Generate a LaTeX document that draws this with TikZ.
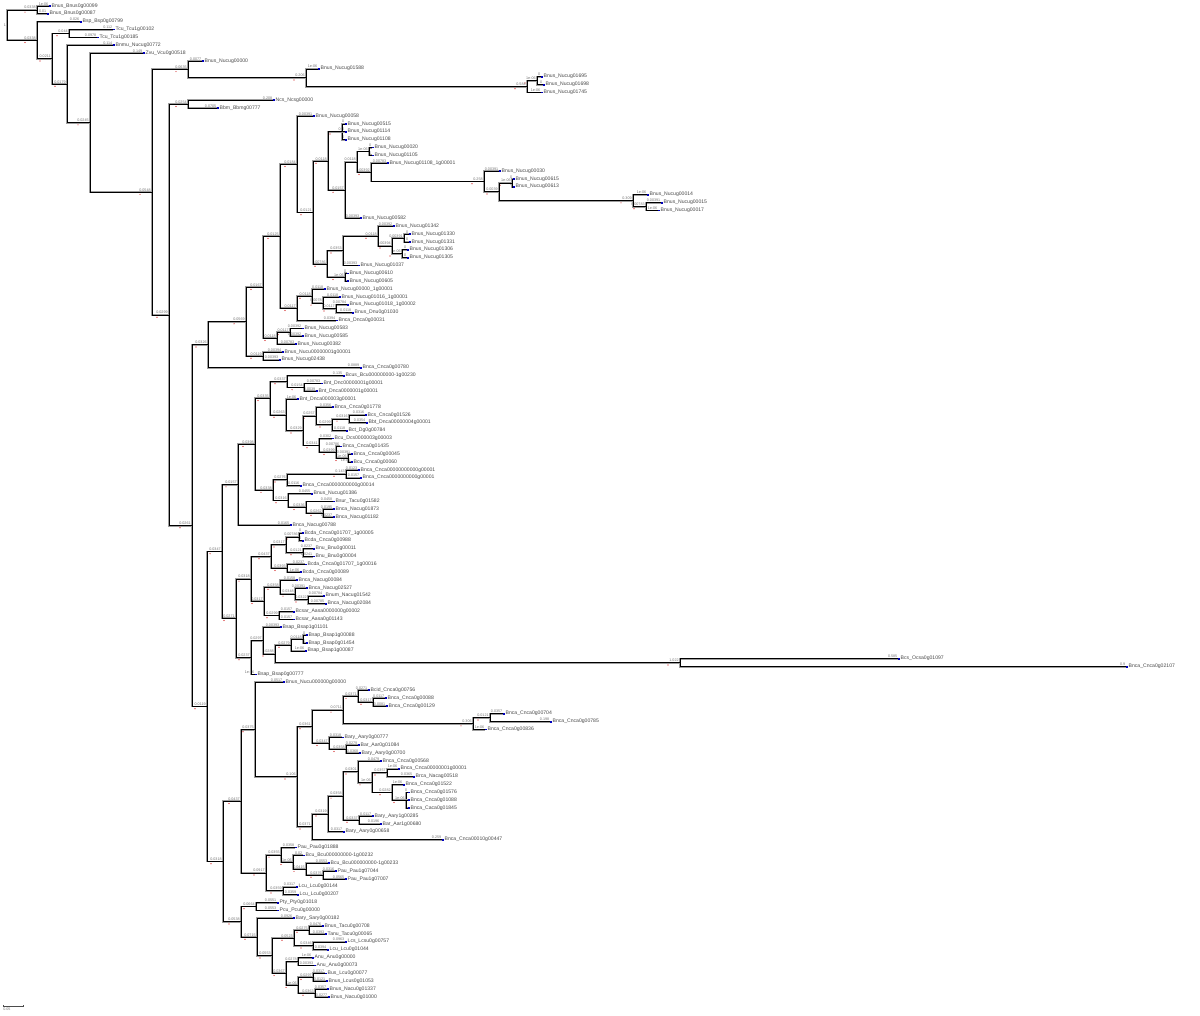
\documentclass[tikz,border=0pt]{standalone}
\usepackage{fontspec}
\setmainfont{Liberation Sans}
\usetikzlibrary{calc}
\tikzset{
 br/.style={draw=black, line width=0.75pt, preaction={draw=black!38, line width=1.9pt}},
 blab/.style={anchor=south east, font=\fontsize{3.7}{3.7}\selectfont, text=black!55, inner sep=0.15pt},
 lname/.style={anchor=west, font=\fontsize{5.1}{5.1}\selectfont, text=black!72, inner sep=0pt},
 leafmk/.style={fill=blue!75!black},
 nodemk/.style={fill=red!80!black},
}
% leaf: id, x end, index, branch label, name
\newcommand\Lv[5]{%
 \coordinate (#1) at (#2pt,{-(6+7.865*(#3-1))*1pt});
 \node[blab] at ([xshift=-0.4pt,yshift=0.6pt]#1) {#4};
 \fill[leafmk] ([xshift=0.2pt,yshift=-0.9pt]#1) rectangle ([xshift=2pt,yshift=0.9pt]#1);
 \node[lname] (t#1) at ([xshift=2.5pt,yshift=0.2pt]#1) {#5};}
% internal node: id, x, first child, last child, branch label
\newcommand\Nd[5]{%
 \path let \p1=($(#3)!0.5!(#4)$) in coordinate (#1) at (#2pt,\y1);
 \draw[br] (#1) |- (#3);
 \draw[br] (#1) |- (#4);
 \node[blab] at ([xshift=-1pt,yshift=0.6pt]#1) {#5};
 \fill[nodemk] ([xshift=-12pt,yshift=-2.2pt]#1) circle (0.6pt);}
\begin{document}
\begin{tikzpicture}
\useasboundingbox (0pt,0pt) rectangle (1200pt,-1016pt);
% ---------------- leaves ----------------
\Lv{l1}{49}{1}{1e-06}{Bnus\_Bnus0g00099}
\Lv{l2}{47}{2}{0.01}{Bnus\_Bnus0g00087}
\Lv{l3}{80}{3}{0.026}{Bsp\_Bsp0g00799}
\Lv{l4}{113}{4}{0.112}{Tcu\_Tcu1g00102}
\Lv{l5}{97}{5}{0.0978}{Tcu\_Tcu1g00185}
\Lv{l6}{113}{6}{0.114}{Bnmu\_Nucug00772}
\Lv{l7}{143}{7}{0.149}{Zvu\_Vcu0g00518}
\Lv{l8}{202}{8}{0.0077}{Bnus\_Nucug00000}
\Lv{l9}{318}{9}{1e-06}{Bnus\_Nucug01588}
\Lv{l10}{541}{10}{0}{Bnus\_Nucug01695}
\Lv{l11}{543}{11}{0}{Bnus\_Nucug01698}
\Lv{l12}{541}{12}{1e-06}{Bnus\_Nucug01745}
\Lv{l13}{273}{13}{0.208}{Ncs\_Ncsg00000}
\Lv{l14}{217}{14}{0.0705}{Bbm\_Bbmg00777}
\Lv{l15}{313}{15}{0.00391}{Bnus\_Nucug00058}
\Lv{l16}{345}{16}{0}{Bnus\_Nucug00515}
\Lv{l17}{345}{17}{0}{Bnus\_Nucug01114}
\Lv{l18}{345}{18}{0}{Bnus\_Nucug01108}
\Lv{l19}{372}{19}{0}{Bnus\_Nucug00020}
\Lv{l20}{372}{20}{0}{Bnus\_Nucug01105}
\Lv{l21}{387}{21}{0.00783}{Bnus\_Nucug01108\_1g00001}
\Lv{l22}{499}{22}{0.00391}{Bnus\_Nucug00030}
\Lv{l23}{513}{23}{0}{Bnus\_Nucug00615}
\Lv{l24}{513}{24}{0}{Bnus\_Nucug00613}
\Lv{l25}{647}{25}{1e-06}{Bnus\_Nucug00014}
\Lv{l26}{661}{26}{0.00391}{Bnus\_Nucug00015}
\Lv{l27}{658}{27}{1e-06}{Bnus\_Nucug00017}
\Lv{l28}{360}{28}{0.00393}{Bnus\_Nucug00582}
\Lv{l29}{393}{29}{0.00392}{Bnus\_Nucug01342}
\Lv{l30}{409}{30}{0}{Bnus\_Nucug01330}
\Lv{l31}{409}{31}{0}{Bnus\_Nucug01331}
\Lv{l32}{407}{32}{0}{Bnus\_Nucug01306}
\Lv{l33}{407}{33}{0}{Bnus\_Nucug01305}
\Lv{l34}{358}{34}{0.00393}{Bnus\_Nucug01037}
\Lv{l35}{347}{35}{0}{Bnus\_Nucug00610}
\Lv{l36}{347}{36}{0}{Bnus\_Nucug00605}
\Lv{l37}{324}{37}{0.0118}{Bnus\_Nucug00000\_1g00001}
\Lv{l38}{339}{38}{0.0118}{Bnus\_Nucug01016\_1g00001}
\Lv{l39}{347}{39}{0.00784}{Bnus\_Nucug01018\_1g00002}
\Lv{l40}{352}{40}{0.0118}{Bnus\_Dnu0g01030}
\Lv{l41}{336}{41}{0.0394}{Bnca\_Dnca0g00031}
\Lv{l42}{302}{42}{0.00392}{Bnus\_Nucug00583}
\Lv{l43}{302}{43}{0.00392}{Bnus\_Nucug00585}
\Lv{l44}{295}{44}{0.00783}{Bnus\_Nucug00382}
\Lv{l45}{282}{45}{0.00394}{Bnus\_Nucu00000001g00001}
\Lv{l46}{279}{46}{0.00393}{Bnus\_Nucug02438}
\Lv{l47}{360}{47}{0.0889}{Bnca\_Cnca0g00780}
\Lv{l48}{343}{48}{0.135}{Bcus\_Bcu000000000-1g00230}
\Lv{l49}{321}{49}{0.00783}{Bnt\_Dnc00000001g00001}
\Lv{l50}{316}{50}{0.0039}{Bnt\_Dnca0000001g00001}
\Lv{l51}{297}{51}{1e-06}{Bnt\_Dnca000003g00001}
\Lv{l52}{332}{52}{0.0356}{Bnca\_Cnca0g01778}
\Lv{l53}{365}{53}{0.0316}{Bcs\_Cnca0g01526}
\Lv{l54}{366}{54}{0.0354}{Bbt\_Dnca00000004g00001}
\Lv{l55}{346}{55}{0.0118}{Bct\_Dg0g00784}
\Lv{l56}{332}{56}{0.0302}{Bcu\_Dcs0000003g00003}
\Lv{l57}{340}{57}{0.00786}{Bnca\_Cnca0g01435}
\Lv{l58}{351}{58}{0.00391}{Bnca\_Cnca0g00045}
\Lv{l59}{351}{59}{1e-06}{Bcu\_Cnca0g00060}
\Lv{l60}{358}{60}{0.0123}{Bnca\_Cnca00000000000g00001}
\Lv{l61}{360}{61}{0.0157}{Bnca\_Cnca0000000000g00001}
\Lv{l62}{300}{62}{0.0116}{Bnca\_Cnca0000000000g00014}
\Lv{l63}{311}{63}{0.0455}{Bnus\_Nucug01386}
\Lv{l64}{333}{64}{0.0458}{Bsur\_Tacu0g01582}
\Lv{l65}{333}{65}{0.0195}{Bnca\_Nacug01873}
\Lv{l66}{333}{66}{0.0237}{Bnca\_Nacug01182}
\Lv{l67}{290}{67}{0.0165}{Bnca\_Nacug00788}
\Lv{l68}{302}{68}{0}{Bcda\_Cnca0g01707\_1g00005}
\Lv{l69}{302}{69}{0}{Bcda\_Cnca0g00988}
\Lv{l70}{313}{70}{0.0237}{Bnu\_Bnu0g00011}
\Lv{l71}{313}{71}{0.0241}{Bnu\_Bnu0g00004}
\Lv{l72}{305}{72}{0.0237}{Bcda\_Cnca0g01707\_1g00016}
\Lv{l73}{300}{73}{1e-06}{Bcda\_Cnca0g00089}
\Lv{l74}{296}{74}{0.0158}{Bnca\_Nacug00084}
\Lv{l75}{306}{75}{0.00391}{Bnca\_Nacug02527}
\Lv{l76}{323}{76}{0.00784}{Bnum\_Nacug01542}
\Lv{l77}{325}{77}{0.00785}{Bnca\_Nacug02084}
\Lv{l78}{293}{78}{0.0157}{Bcsar\_Aasa0000000g00002}
\Lv{l79}{293}{79}{0.0157}{Bcsar\_Aasa0g01143}
\Lv{l80}{280}{80}{0.00393}{Bsap\_Bsap1g01101}
\Lv{l81}{306}{81}{0}{Bsap\_Bsap1g00088}
\Lv{l82}{306}{82}{0}{Bsap\_Bsap0g01454}
\Lv{l83}{305}{83}{1e-06}{Bsap\_Bsap1g00087}
\Lv{l84}{898}{84}{0.585}{Bcs\_Ocsa0g01097}
\Lv{l85}{1126}{85}{0.9}{Bnca\_Cnca0g02107}
\Lv{l86}{255}{86}{1e-06}{Bsap\_Bsap0g00777}
\Lv{l87}{283}{87}{0.0517}{Bnus\_Nucu000000g00000}
\Lv{l88}{368}{88}{0.0271}{Bcid\_Cnca0g00756}
\Lv{l89}{385}{89}{0.0117}{Bnca\_Cnca0g00088}
\Lv{l90}{386}{90}{0.0081}{Bnca\_Cnca0g00129}
\Lv{l91}{503}{91}{0.0357}{Bnca\_Cnca0g00704}
\Lv{l92}{550}{92}{0.198}{Bnca\_Cnca0g00785}
\Lv{l93}{485}{93}{1e-06}{Bnca\_Cnca0g00836}
\Lv{l94}{342}{94}{0.0318}{Bary\_Aary0g00777}
\Lv{l95}{358}{95}{0.0279}{Bar\_Aar0g01084}
\Lv{l96}{359}{96}{0.0368}{Bary\_Aary0g00700}
\Lv{l97}{380}{97}{0.0479}{Bnca\_Cnca0g00568}
\Lv{l98}{398}{98}{1e-06}{Bnca\_Cnca00000001g00001}
\Lv{l99}{413}{99}{0.0365}{Brca\_Nacag00518}
\Lv{l100}{403}{100}{1e-06}{Bnca\_Cnca0g01522}
\Lv{l101}{408}{101}{0}{Bnca\_Cnca0g01576}
\Lv{l102}{408}{102}{0}{Bnca\_Cnca0g01088}
\Lv{l103}{408}{103}{0}{Bnca\_Caca0g01845}
\Lv{l104}{372}{104}{0.0117}{Bary\_Aary1g00285}
\Lv{l105}{380}{105}{0.0196}{Bar\_Aar1g00680}
\Lv{l106}{343}{106}{0.0317}{Bary\_Aary0g00658}
\Lv{l107}{442}{107}{0.259}{Bnca\_Cnca00010g00447}
\Lv{l108}{295}{108}{0.0358}{Pau\_Pau0g01888}
\Lv{l109}{303}{109}{0.02}{Bcu\_Bcu000000000-1g00232}
\Lv{l110}{328}{110}{0.0553}{Bcu\_Bcu000000000-1g00233}
\Lv{l111}{335}{111}{0.0316}{Pau\_Pau1g07044}
\Lv{l112}{345}{112}{0.0565}{Pau\_Pau1g07007}
\Lv{l113}{296}{113}{0.0317}{Lcu\_Lcu0g00144}
\Lv{l114}{297}{114}{0.0359}{Lcu\_Lcu0g00207}
\Lv{l115}{277}{115}{0.0551}{Pty\_Pty0g01018}
\Lv{l116}{277}{116}{0.0553}{Pcu\_Pcu0g00000}
\Lv{l117}{293}{117}{0.0926}{Bary\_Sary0g00182}
\Lv{l118}{322}{118}{0.0476}{Bnus\_Tacu0g00708}
\Lv{l119}{325}{119}{0.0393}{Tanu\_Tacu0g00065}
\Lv{l120}{345}{120}{0.0963}{Lcs\_Lcsu0g00757}
\Lv{l121}{327}{121}{0.0394}{Lcu\_Lcu0g01044}
\Lv{l122}{312}{122}{1e-06}{Anu\_Anu0g00000}
\Lv{l123}{314}{123}{0.00393}{Anu\_Anu0g00073}
\Lv{l124}{325}{124}{0.0317}{Bus\_Lcu0g00077}
\Lv{l125}{326}{125}{0.0121}{Bnus\_Lcus0g01053}
\Lv{l126}{327}{126}{0.0357}{Bnus\_Nacu0g01337}
\Lv{l127}{328}{127}{0.0277}{Bnus\_Nacu0g01000}
% ---------------- internal nodes (post-order) ----------------
\Nd{A}{37}{l1}{l2}{0.0338}
\Nd{D}{69}{l4}{l5}{0.044}
\Nd{H4}{537}{l10}{l11}{1e-06}
\Nd{H3}{527}{H4}{l12}{0.584}
\Nd{H2}{306}{l9}{H3}{0.206}
\Nd{H}{188}{l8}{H2}{0.0635}
\Nd{J}{188}{l13}{l14}{0.0254}
\Nd{V1}{342}{l16}{l18}{0}
\draw[br] (V1) |- (l17);
\Nd{V5}{369}{l19}{l20}{1e-06}
\Nd{V9}{512}{l23}{l24}{1e-06}
\Nd{V11}{646}{l26}{l27}{0.00783}
\Nd{V10}{633}{l25}{V11}{0.309}
\Nd{V8}{499}{V9}{V10}{0.0039}
\Nd{V7}{484}{l22}{V8}{0.258}
\Nd{V6}{371}{l21}{V7}{0.00392}
\Nd{V4}{357}{V5}{V6}{0.0118}
\Nd{V3}{345}{V4}{l28}{0.0157}
\Nd{V2}{328}{V1}{V3}{0.0118}
\Nd{V17}{404}{l30}{l31}{0.00391}
\Nd{V18}{402}{l32}{l33}{1e-06}
\Nd{V16}{392}{V17}{V18}{0.00394}
\Nd{V15}{378}{l29}{V16}{0.0118}
\Nd{V13}{343}{V15}{l34}{0.0353}
\Nd{V14}{345}{l35}{l36}{1e-06}
\Nd{V12}{327}{V13}{V14}{0.00786}
\Nd{N16}{313}{V2}{V12}{0.0121}
\Nd{N15}{297}{l15}{N16}{0.0184}
\Nd{Q3}{336}{l39}{l40}{0.0117}
\Nd{Q2}{323}{l38}{Q3}{0.0078}
\Nd{Q1}{312}{l37}{Q2}{0.0118}
\Nd{N21}{297}{Q1}{l41}{0.0117}
\Nd{N14}{280}{N15}{N21}{0.0125}
\Nd{P1}{290}{l42}{l43}{0.0117}
\Nd{N20}{277}{P1}{l44}{0.0118}
\Nd{N13}{263}{N14}{N20}{0.0167}
\Nd{L2}{263}{l45}{l46}{0.0119}
\Nd{L1}{246}{N13}{L2}{0.0569}
\Nd{L}{208}{L1}{l47}{0.0326}
\Nd{W10b}{304}{l49}{l50}{0.0154}
\Nd{W10}{287}{l48}{W10b}{0.0337}
\Nd{W1}{349}{l53}{l54}{0.0316}
\Nd{W2}{332}{W1}{l55}{0.0299}
\Nd{W3}{316}{l52}{W2}{0.0257}
\Nd{W4}{348}{l58}{l59}{1e-06}
\Nd{W5}{336}{l57}{W4}{0.0399}
\Nd{W6}{319}{l56}{W5}{0.0341}
\Nd{W7}{303}{W3}{W6}{0.0329}
\Nd{W8}{286}{l51}{W7}{0.0263}
\Nd{W9}{270}{W10}{W8}{0.0335}
\Nd{W11}{346}{l60}{l61}{0.143}
\Nd{W12}{287}{W11}{l62}{0.0276}
\Nd{W13}{323}{l65}{l66}{0.0262}
\Nd{W14}{306}{l64}{W13}{0.0336}
\Nd{W15}{288}{l63}{W14}{0.0316}
\Nd{W16}{273}{W12}{W15}{0.0338}
\Nd{W17}{255}{W9}{W16}{0.0398}
\Nd{W18}{238}{W17}{l67}{0.0157}
\Nd{X2}{299}{l68}{l69}{0.00786}
\Nd{X3}{303}{l70}{l71}{0.0121}
\Nd{X4}{286}{X2}{X3}{0.0317}
\Nd{X5}{287}{l72}{l73}{0.0393}
\Nd{X6}{271}{X4}{X5}{0.0437}
\Nd{X7}{308}{l76}{l77}{0.0322}
\Nd{X8}{295}{l75}{X7}{0.0348}
\Nd{X9}{280}{l74}{X8}{0.0358}
\Nd{X10}{279}{l78}{l79}{0.0299}
\Nd{X11}{264}{X9}{X10}{0.0317}
\Nd{X12}{251}{X6}{X11}{0.0318}
\Nd{X13}{303}{l81}{l82}{0.0118}
\Nd{X14}{291}{X13}{l83}{0.0279}
\Nd{X16}{680}{l84}{l85}{1.022}
\Nd{X15}{275}{X14}{X16}{0.0288}
\Nd{X17}{263}{l80}{X15}{0.0297}
\Nd{X18}{251}{X17}{l86}{0.0237}
\Nd{X1}{236}{X12}{X18}{0.0271}
\Nd{Y1}{222}{W18}{X1}{0.0347}
\Nd{AA1}{373}{l89}{l90}{0.0317}
\Nd{AA2}{358}{l88}{AA1}{0.0371}
\Nd{AA3}{490}{l91}{l92}{0.0121}
\Nd{AA4}{473}{AA3}{l93}{0.306}
\Nd{AA5}{343}{AA2}{AA4}{0.0711}
\Nd{AB1}{346}{l95}{l96}{0.0358}
\Nd{AB2}{329}{l94}{AB1}{0.0347}
\Nd{AB3}{312}{AA5}{AB2}{0.0361}
\Nd{AC3}{387}{l98}{l99}{0.0357}
\Nd{AC1}{406}{l101}{l103}{1e-06}
\draw[br] (AC1) |- (l102);
\Nd{AC2}{392}{l100}{AC1}{0.0282}
\Nd{AC4}{372}{AC3}{AC2}{1e-06}
\Nd{AC5}{358}{l97}{AC4}{0.0301}
\Nd{AC6}{359}{l104}{l105}{0.0337}
\Nd{AC7}{343}{AC5}{AC6}{0.0358}
\Nd{AC8}{328}{AC7}{l106}{0.0319}
\Nd{AC9}{312}{AC8}{l107}{0.0371}
\Nd{Y6}{297}{AB3}{AC9}{0.106}
\Nd{Y5}{255}{l87}{Y6}{0.0375}
\Nd{Z13}{323}{l111}{l112}{0.0376}
\Nd{Z14}{306}{l110}{Z13}{0.0415}
\Nd{Z15}{293}{l109}{Z14}{1e-06}
\Nd{Z16}{281}{l108}{Z15}{0.0355}
\Nd{Z17}{283}{l113}{l114}{0.0359}
\Nd{Z18}{266}{Z16}{Z17}{0.0917}
\Nd{Y4}{241}{Y5}{Z18}{0.0437}
\Nd{Z1}{256}{l115}{l116}{0.0664}
\Nd{Z2}{309}{l118}{l119}{0.0275}
\Nd{Z3}{313}{l120}{l121}{0.0346}
\Nd{Z4}{294}{Z2}{Z3}{0.0523}
\Nd{Z5}{298}{l122}{l123}{0.0278}
\Nd{Z6}{313}{l124}{l125}{0.0297}
\Nd{Z7}{315}{l126}{l127}{0.0363}
\Nd{Z8}{298}{Z6}{Z7}{1e-06}
\Nd{Z9}{286}{Z5}{Z8}{0.0367}
\Nd{Z10}{272}{Z4}{Z9}{0.0553}
\Nd{Z11}{257}{l117}{Z10}{0.0715}
\Nd{Z12}{241}{Z1}{Z11}{0.0538}
\Nd{Y3}{223}{Y4}{Z12}{0.0318}
\Nd{Y2}{207}{Y1}{Y3}{0.0119}
\Nd{K}{192}{L}{Y2}{0.0261}
\Nd{I}{169}{J}{K}{0.0299}
\Nd{G}{152}{H}{I}{0.0548}
\Nd{F}{90}{l7}{G}{0.0245}
\Nd{E}{67}{l6}{F}{0.0179}
\Nd{C}{52}{D}{E}{0.0211}
\Nd{B}{37}{l3}{C}{0.0338}
% root
\path let \p1=($(A)!0.5!(B)$) in coordinate (R) at (7pt,\y1);
\draw[br] (R) |- (A);
\draw[br] (R) |- (B);
\node[blab, anchor=east] (rootlab) at ([xshift=-0.6pt]R) {1};
% scale bar
\coordinate (sbA) at (3pt,-1006pt);
\coordinate (sbB) at (23pt,-1006pt);
\draw[black!70, line width=0.5pt] (sbA) -- (sbB);
\draw[black!70, line width=0.5pt] ([yshift=-0.8pt]sbA) -- ([yshift=0.8pt]sbA);
\draw[black!70, line width=0.5pt] ([yshift=-0.8pt]sbB) -- ([yshift=0.8pt]sbB);
\node[blab, anchor=north west] (sbT) at ([yshift=-1.2pt]sbA) {0.05};
\end{tikzpicture}
\end{document}
